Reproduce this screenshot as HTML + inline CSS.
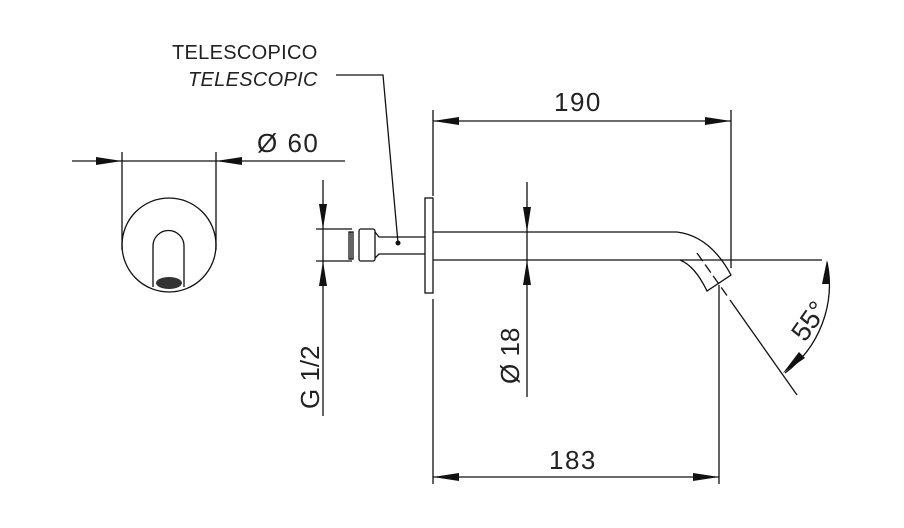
<!DOCTYPE html>
<html><head><meta charset="utf-8"><style>
html,body{margin:0;padding:0;background:#fff;}
svg{display:block;}
text{font-family:"Liberation Sans",sans-serif;fill:#222;}
</style></head><body>
<svg width="904" height="528" viewBox="0 0 904 528" xmlns="http://www.w3.org/2000/svg">
<g stroke="#111" stroke-width="1.3" fill="none">
<circle cx="169" cy="245" r="47"/>
<path d="M153 287 V246 A15.5 15.5 0 0 1 184 246 V287"/>
<line x1="122" y1="152" x2="122" y2="250"/>
<line x1="216" y1="152" x2="216" y2="250"/>
<line x1="72" y1="161" x2="345" y2="161"/>
<line x1="323" y1="180" x2="323" y2="416"/>
<line x1="316" y1="229" x2="352" y2="229"/>
<line x1="316" y1="261" x2="352" y2="261"/>
<rect x="349" y="232" width="4" height="27"/>
<line x1="351" y1="232" x2="351" y2="259"/>
<rect x="359" y="229" width="16" height="32" rx="2"/>
<path d="M375 232 L379 237 H425 M375 258 L379 254 H425"/>
<rect x="425" y="198" width="8" height="95"/>
<path d="M433 232 H677 Q710 236 731 275 L707 291 Q695 266 680 260 H433"/>
<line x1="697" y1="253" x2="728" y2="297" stroke-dasharray="10,4"/>
<line x1="433" y1="110" x2="433" y2="196"/>
<line x1="731" y1="110" x2="731" y2="268"/>
<line x1="433" y1="121" x2="731" y2="121"/>
<line x1="433" y1="299" x2="433" y2="484"/>
<line x1="719" y1="285" x2="719" y2="484"/>
<line x1="433" y1="477" x2="719" y2="477"/>
<line x1="527" y1="182" x2="527" y2="397"/>
<line x1="680" y1="260" x2="822" y2="260"/>
<line x1="730" y1="300" x2="797" y2="395"/>
<path d="M827 262 A110 110 0 0 1 785 373"/>
<polyline points="336,75 383,75 398,243"/>
</g>
<g fill="#111">
<ellipse cx="169" cy="283" rx="13" ry="6" fill="#333"/>
<circle cx="398" cy="243" r="2.5"/>
<polygon points="122,161 96,157 96,165"/>
<polygon points="216,161 242,157 242,165"/>
<polygon points="323,229 319,204 327,204"/>
<polygon points="323,261 319,286 327,286"/>
<polygon points="433,121 459,117 459,125"/>
<polygon points="731,121 705,117 705,125"/>
<polygon points="433,477 459,473 459,481"/>
<polygon points="719,477 693,473 693,481"/>
<polygon points="527,232 523,207 531,207"/>
<polygon points="527,260 523,285 531,285"/>
<polygon points="827,260 822,284 830,284"/>
<polygon points="783,373 799,352 805,358"/>
</g>
<text x="172" y="59" font-size="20" letter-spacing="0.3">TELESCOPICO</text>
<text x="188" y="86" font-size="20" font-style="italic" letter-spacing="0.3">TELESCOPIC</text>
<text x="257" y="152" font-size="26" letter-spacing="1.5">Ø 60</text>
<text x="554" y="111" font-size="26" letter-spacing="1.5">190</text>
<text x="549" y="469" font-size="26" letter-spacing="1.5">183</text>
<text transform="translate(319,409) rotate(-90)" font-size="26">G 1/2</text>
<text transform="translate(519,384) rotate(-90)" font-size="26">Ø 18</text>
<text transform="translate(805,343) rotate(-55)" font-size="27">55°</text>
</svg>
</body></html>
